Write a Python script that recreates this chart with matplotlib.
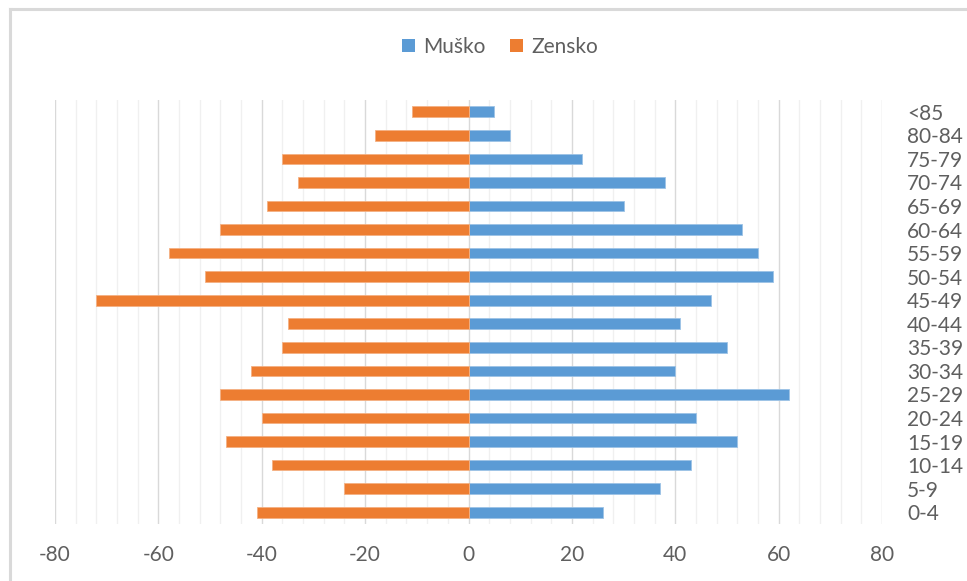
import matplotlib.pyplot as plt
from matplotlib.patches import Patch
from matplotlib.lines import Line2D
import numpy as np

plt.rcParams['font.family'] = ['Lato', 'DejaVu Sans']

# age groups, top to bottom as shown
ages = ["<85", "80-84", "75-79", "70-74", "65-69", "60-64", "55-59", "50-54", "45-49",
        "40-44", "35-39", "30-34", "25-29", "20-24", "15-19", "10-14", "5-9", "0-4"]
musko = [5, 8, 22, 38, 30, 53, 56, 59, 47, 41, 50, 40, 62, 44, 52, 43, 37, 26]
zensko = [-11, -18, -36, -33, -39, -48, -58, -51, -72, -35, -36, -42, -48, -40, -47, -38, -24, -41]
xticks = [-80, -60, -40, -20, 0, 20, 40, 60, 80]

BLUE = "#5B9BD5"
ORANGE = "#ED7D31"
TXT = "#5f5f5f"

fig = plt.figure(figsize=(9.67, 5.81), dpi=100)
ax = fig.add_axes([55 / 967, 1 - 524 / 581, (882 - 55) / 967, (524 - 100) / 581])

y = np.arange(len(ages))[::-1]
ax.barh(y, musko, height=0.45, color=BLUE, edgecolor="#9dc3e6", linewidth=0.6, zorder=3)
ax.barh(y, zensko, height=0.45, color=ORANGE, edgecolor="#f4b183", linewidth=0.6, zorder=3)

ax.set_xlim(-80, 80)
ax.set_ylim(-0.5, len(ages) - 0.5)

# gridlines: major every 20, minor every 4
ax.set_xticks(xticks)
ax.set_xticklabels([str(v) for v in xticks])
ax.set_xticks(np.arange(-80, 81, 4), minor=True)
ax.grid(True, which="major", axis="x", color="#d9d9d9", linewidth=1.0, zorder=0)
ax.grid(True, which="minor", axis="x", color="#f0f0f0", linewidth=1.0, zorder=0)
ax.tick_params(axis="x", which="both", length=0, pad=15, labelsize=15, labelcolor=TXT)

ax.set_yticks(y)
ax.set_yticklabels(ages)
ax.yaxis.tick_right()
ax.tick_params(axis="y", length=0, pad=18, labelsize=15, labelcolor=TXT)

for s in ax.spines.values():
    s.set_visible(False)

# legend
handles = [Patch(facecolor=BLUE, label="Muško"), Patch(facecolor=ORANGE, label="Zensko")]
leg = fig.legend(handles=handles, loc="center", bbox_to_anchor=(0.517, 1 - 47 / 581), ncol=2,
                 frameon=False, fontsize=15, handlelength=0.6, handleheight=0.6,
                 handletextpad=0.4, columnspacing=1.2)
for t in leg.get_texts():
    t.set_color(TXT)

# light outer frame (top and left edges visible)
fig.add_artist(Line2D([10 / 967, 1], [1 - 9 / 581, 1 - 9 / 581], color="#d9d9d9", linewidth=2.2,
                      transform=fig.transFigure))
fig.add_artist(Line2D([10 / 967, 10 / 967], [0, 1 - 9 / 581], color="#d9d9d9", linewidth=2.2,
                      transform=fig.transFigure))

fig.savefig("out.png", dpi=100, facecolor="white")
